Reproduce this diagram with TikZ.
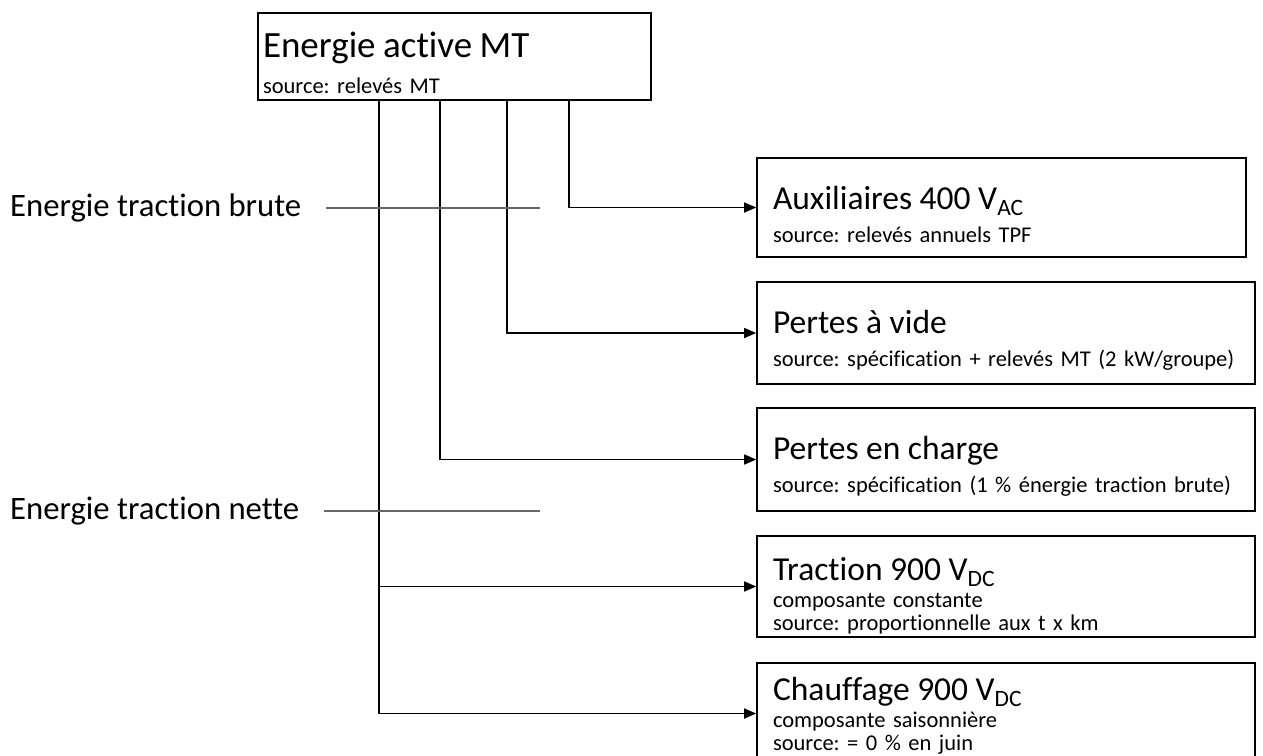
\documentclass[tikz,border=0pt]{standalone}
\usepackage{fontspec}
\setmainfont{Carlito}[Ligatures=NoCommon]
\usetikzlibrary{arrows.meta}
\frenchspacing
\newcommand{\headfont}{\fontsize{33.5}{38}\selectfont}
\newcommand{\mtfont}{\fontsize{37}{42}\selectfont}
\newcommand{\srcfont}{\fontsize{22.5}{22.5}\selectfont\lineskiplimit=-100pt}
\begin{document}
\begin{tikzpicture}[x=1pt, y=-1pt,
	box/.style = {draw, line width=1.6pt, align=left, inner xsep=16pt, inner ysep=0pt, text width=466, text height=51, font=\srcfont},
	side/.style = {anchor=west, inner sep=0pt, font=\fontsize{32.7}{38}\selectfont},
	flow/.style = {line width=1.6pt, -{Triangle[length=12pt,width=10pt]}},
	guide/.style = {line width=1.2pt, draw=black!60}]
\useasboundingbox (0,0) rectangle (1263,755);
\node[box, inner xsep=5pt, text width=383, text height=44, text depth=43] (mt) at (454.5,56.5)
	{{\mtfont Energie active MT}\\[13.5pt] source: relevés MT};
\node[box, text width=457, text depth=48] (aux) at (1001.5,207.5)
	{{\headfont Auxiliaires 400 V\textsubscript{AC}}\\[10.5pt] source: relevés annuels TPF};
\node[box, text depth=51] (vide) at (1006,333)
	{{\headfont Pertes à vide}\\[10.5pt] source: spécification + relevés MT (2 kW/groupe)};
\node[box, text depth=52] (charge) at (1006,459.5)
	{{\headfont Pertes en charge}\\[10.5pt] source: spécification (1 \% énergie traction brute)};
\node[box, text height=44, text depth=57] (trac) at (1006,586.5)
	{{\headfont Traction 900 V\textsubscript{DC}}\\[5pt] composante constante\\ source: proportionnelle aux t x km};
\node[box, text height=37, text depth=64] (chauf) at (1006,713.5)
	{{\headfont Chauffage 900 V\textsubscript{DC}}\\[5pt] composante saisonnière\\ source: = 0 \% en juin};
% taps under the MT box
\coordinate (k1) at ([xshift=122]mt.south west);
\coordinate (k2) at ([xshift=183]mt.south west);
\coordinate (k3) at ([xshift=250]mt.south west);
\coordinate (k4) at ([xshift=312]mt.south west);
\draw[flow] (k4) |- (aux.west);
\draw[flow] (k3) |- (vide.west);
\draw[flow] (k2) |- (charge.west);
\draw[flow] (k1) |- (chauf.west);
\draw[flow] (k1 |- trac.west) -- (trac.west);
% side labels
\node[side] (brute) at (10,208) {Energie traction brute};
\node[side] (nette) at (10,511) {Energie traction nette};
\coordinate (gend) at (540,0);
\draw[guide, shorten <=25pt] (brute.east) -- (brute.east -| gend);
\draw[guide, shorten <=25pt] (nette.east) -- (nette.east -| gend);
\end{tikzpicture}
\end{document}
